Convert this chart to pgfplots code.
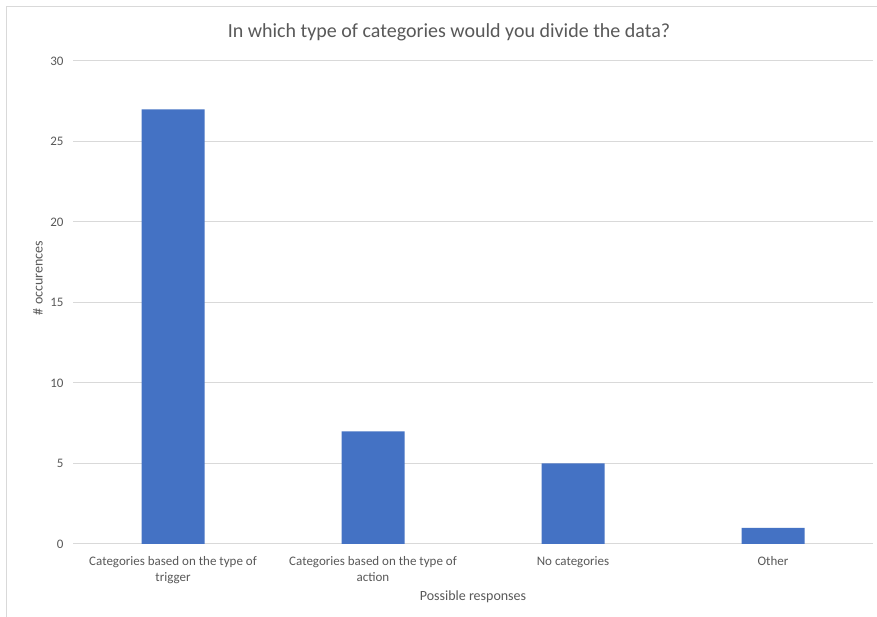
\documentclass[border=0pt]{standalone}
\usepackage{pgfplots}
\pgfplotsset{compat=1.18}
\usepackage{fontspec}
\setmainfont{Carlito}
\definecolor{barblue}{HTML}{4472C4}
\definecolor{gridgray}{HTML}{D9D9D9}
\definecolor{txtgray}{HTML}{595959}
\begin{document}
\begin{tikzpicture}[x=1pt,y=1pt]
\clip (0,0) rectangle (877,617);
\fill[white] (0,0) rectangle (877,617);
\draw[gridgray, line width=1pt] (6,-10) rectangle (892,610);
\node[txtgray, font=\fontsize{20}{24}\selectfont] at (449,585) {In which type of categories would you divide the data?};
\node[txtgray, rotate=90, font=\fontsize{14}{16}\selectfont] at (38,339) {\# occurences};
\node[txtgray, font=\fontsize{14}{16}\selectfont] at (473,20) {Possible responses};
\begin{axis}[
  at={(73pt,73pt)}, anchor=south west,
  scale only axis, width=800pt, height=483pt,
  xmin=-0.5, xmax=3.5, ymin=0, ymax=30,
  xtick={0,1,2,3},
  xticklabels={{Categories based on the type of\\trigger},{Categories based on the type of\\action},{No categories},{Other}},
  xticklabel style={align=center, font=\fontsize{13}{16}\selectfont, text=txtgray, anchor=north, yshift=-9pt},
  ytick={0,5,...,30},
  yticklabel style={font=\fontsize{13}{15}\selectfont, text=txtgray, xshift=-6pt},
  /pgf/number format/assume math mode=true,
  ymajorgrids, grid style={gridgray, line width=1pt},
  axis line style={draw=none},
  major tick length=0pt,
  ybar, bar width=63pt,
]
\addplot[fill=barblue, draw=none] coordinates {(0,27) (1,7) (2,5) (3,1)};
\end{axis}
\end{tikzpicture}
\end{document}
